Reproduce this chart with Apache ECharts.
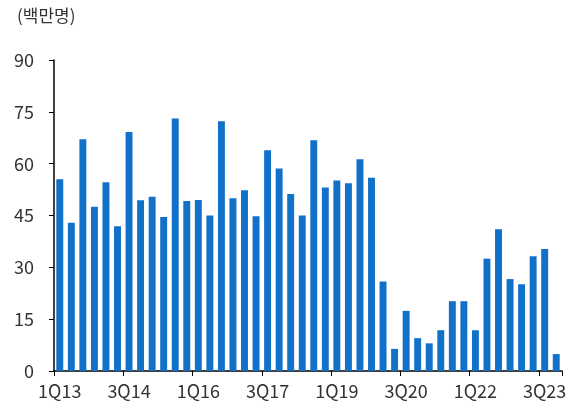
<!DOCTYPE html>
<html><head><meta charset="utf-8">
<script src="https://cdn.jsdelivr.net/npm/echarts@6/dist/echarts.min.js"></script>
<style>html,body{margin:0;padding:0;background:#fff}#c{width:579px;height:408px}</style>
</head><body><div id="c"></div>
<script>
const years = ['13','14','15','16','17','18','19','20','21','22','23'];
const categories = [];
years.forEach(y => { for (let q = 1; q <= 4; q++) categories.push(q + 'Q' + y); });
const values = [55.5, 42.9, 67.1, 47.5, 54.6, 41.9, 69.2, 49.4, 50.4, 44.6, 73.1, 49.2,
  49.5, 45.0, 72.3, 50.0, 52.3, 44.8, 63.9, 58.6, 51.2, 45.0, 66.8, 53.1,
  55.1, 54.3, 61.3, 55.9, 25.9, 6.4, 17.4, 9.5, 8.0, 11.8, 20.2, 20.2,
  11.8, 32.5, 41.0, 26.6, 25.1, 33.2, 35.3, 4.9];
const unitLabel = '(백만명)';
const FONT = '"Noto Sans CJK KR", "Noto Sans", sans-serif';
const chart = echarts.init(document.getElementById('c'), null, {renderer: 'canvas'});
chart.setOption({
  animation: false,
  textStyle: {fontFamily: FONT},
  title: {text: unitLabel, left: 12, top: 2, textStyle: {fontFamily: FONT, fontSize: 17, fontWeight: 'normal', color: '#333'}},
  grid: {left: 54, right: 17, top: 60, bottom: 37, containLabel: false},
  xAxis: {
    type: 'category', data: categories, boundaryGap: true,
    axisLine: {lineStyle: {color: '#000', width: 1.5}},
    axisTick: {show: true, interval: 5, length: 5, lineStyle: {color: '#000'}},
    axisLabel: {interval: 5, margin: 11, fontSize: 18, color: '#333', fontFamily: FONT}
  },
  yAxis: {
    type: 'value', min: 0, max: 90, interval: 15,
    splitLine: {show: false},
    axisLine: {show: true, lineStyle: {color: '#000', width: 1.5}},
    axisTick: {show: true, length: 5, lineStyle: {color: '#000'}},
    axisLabel: {margin: 20, fontSize: 18, color: '#333', fontFamily: FONT}
  },
  series: [{type: 'bar', data: values, barWidth: '60%', itemStyle: {color: '#1170c8'}}]
});
</script></body></html>
